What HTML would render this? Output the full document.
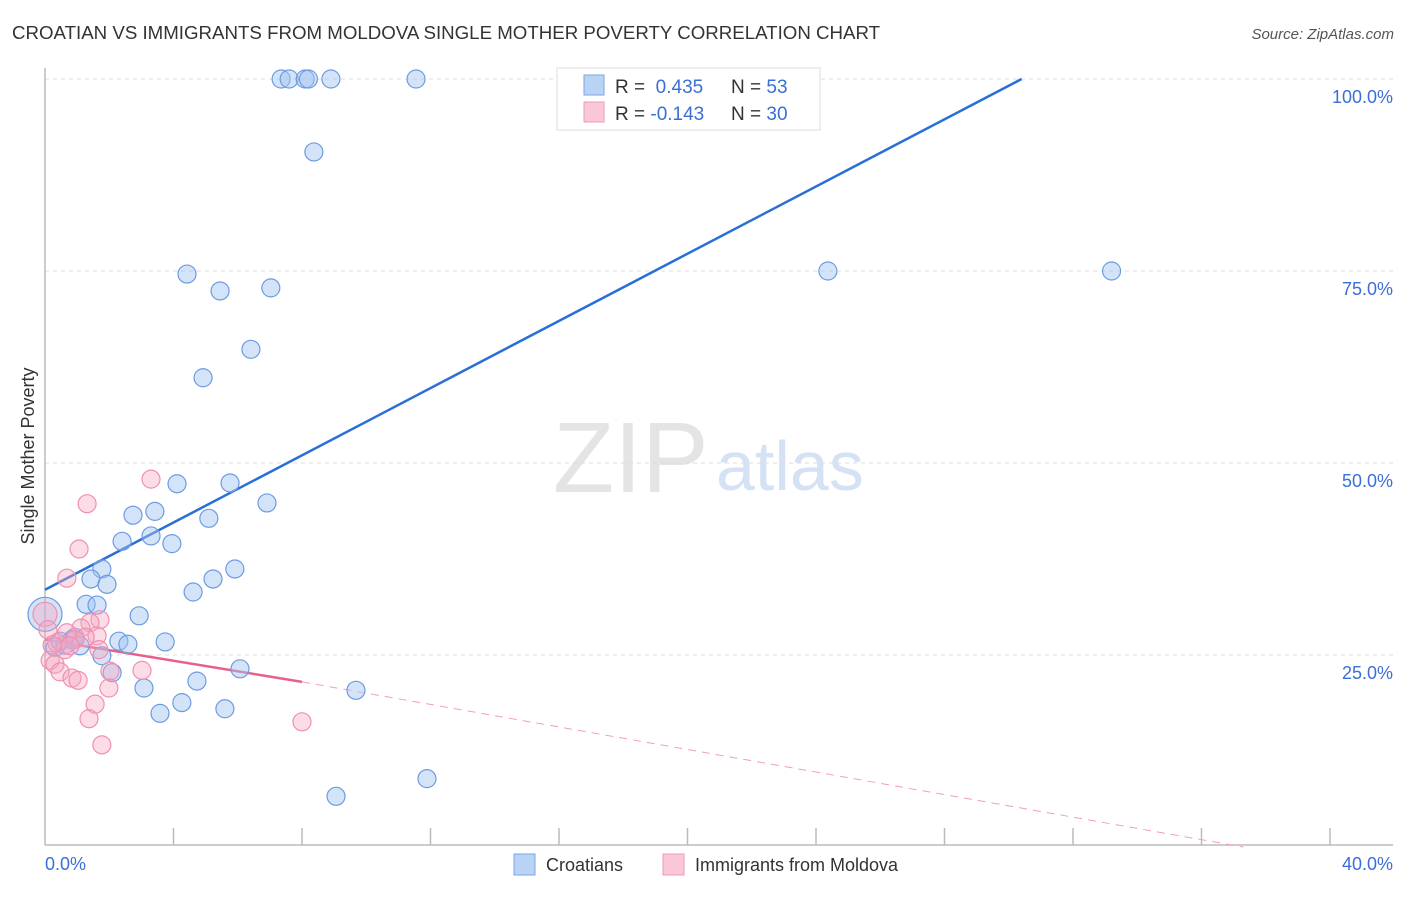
<!DOCTYPE html>
<html><head><meta charset="utf-8"><style>
body{margin:0;background:#fff;font-family:"Liberation Sans",sans-serif;}
svg text{font-family:"Liberation Sans",sans-serif;}
</style></head><body>
<svg id="chart" width="1406" height="892" xmlns="http://www.w3.org/2000/svg">
<text x="12" y="39" font-size="18.7" fill="#333">CROATIAN VS IMMIGRANTS FROM MOLDOVA SINGLE MOTHER POVERTY CORRELATION CHART</text>
<text x="1394" y="39" font-size="15" fill="#555" text-anchor="end" font-style="italic">Source: ZipAtlas.com</text>
<text x="553" y="492" font-size="100" font-family="Liberation Serif,serif" fill="#e4e4e4">ZIP</text>
<text x="716" y="490" font-size="70" fill="#d5e2f5">atlas</text>
<g id="grid"></g>
<line x1="45" y1="68" x2="45" y2="845" stroke="#bbb" stroke-width="1.5"/>
<line x1="45" y1="845" x2="1393" y2="845" stroke="#bbb" stroke-width="1.5"/>
<text transform="translate(34,456) rotate(-90)" font-size="18" fill="#333" text-anchor="middle">Single Mother Poverty</text>
<text x="45" y="870" font-size="18" fill="#3a6fd8">0.0%</text>
<text x="1393" y="870" font-size="18" fill="#3a6fd8" text-anchor="end">40.0%</text>
<g id="lines"></g>
<g id="points"></g>
<g>
<rect x="557" y="68" width="263" height="62" fill="#fff" stroke="#ddd"/>
<rect x="584" y="75" width="20" height="20" fill="#b9d3f5" stroke="#7aa4e6"/>
<rect x="584" y="102" width="20" height="20" fill="#f9c7d6" stroke="#ee9bb5"/>
<text x="615" y="93" font-size="19" fill="#333">R = <tspan fill="#3a6fd8">&#160;0.435</tspan></text>
<text x="731" y="93" font-size="19" fill="#333">N = <tspan fill="#3a6fd8">53</tspan></text>
<text x="615" y="120" font-size="19" fill="#333">R = <tspan fill="#3a6fd8">-0.143</tspan></text>
<text x="731" y="120" font-size="19" fill="#333">N = <tspan fill="#3a6fd8">30</tspan></text>
</g>
<g>
<rect x="514" y="854" width="21" height="21" fill="#b9d3f5" stroke="#7aa4e6"/>
<text x="546" y="871" font-size="18" fill="#333">Croatians</text>
<rect x="663" y="854" width="21" height="21" fill="#f9c7d6" stroke="#ee9bb5"/>
<text x="695" y="871" font-size="18" fill="#333">Immigrants from Moldova</text>
</g>
</svg>
<script>
const yTicks=[25,50,75,100];
const yTickLabels=["25.0%","50.0%","75.0%","100.0%"];
const xTicks=[4,8,12,16,20,24,28,32,36,40];
const blueX=[7.35,7.6,8.1,8.2,8.9,11.55,8.37,4.42,5.45,7.03,24.37,33.2,6.41,4.92,4.11,5.76,6.91,3.42,2.74,5.1,3.3,2.4,3.95,1.77,5.91,1.43,5.23,1.93,4.61,1.28,1.62,2.93,2.3,2.58,3.74,1.77,2.09,6.07,3.08,9.68,4.73,3.58,4.26,5.6,9.06,11.89,0.31,0.62,0.84,0.47,0.93,1.09,0];
const blueY=[100,100,100,100,100,100,90.5,74.6,72.4,72.8,75,75,64.8,61.1,47.3,47.4,44.8,43.7,43.2,42.8,40.5,39.8,39.5,36.2,36.2,34.9,34.9,34.2,33.2,31.6,31.5,30.1,26.8,26.4,26.7,24.9,22.7,23.2,20.7,20.4,21.6,17.4,18.8,18.0,6.6,8.9,26.0,26.3,27.0,26.8,27.3,26.2,30.3];
const pinkX=[0,3.3,1.31,1.06,0.68,1.71,1.4,1.12,1.62,1.25,0.68,0.37,0.93,1.68,0.16,0.31,0.47,0.84,1.03,2.02,3.02,1.99,1.56,1.37,1.77,8.0,0.62,0.78,0.22,0.09];
const pinkY=[30.3,47.9,44.7,38.8,35.0,29.6,29.2,28.5,27.5,27.3,27.9,26.6,27.0,25.7,24.3,23.8,22.8,22.0,21.7,22.9,23.0,20.7,18.6,16.7,13.3,16.3,25.7,26.2,26.3,28.3];
const blueTrend=[[0,33.5],[30.4,100]];
const pinkTrend=[[0,27.0],[8.0,21.5],[37.3,0]];
const NS="http://www.w3.org/2000/svg";
const sx=v=>45+v/40*1285, sy=v=>847-v/100*768;
function mk(tag,attrs,parent){const e=document.createElementNS(NS,tag);for(const k in attrs)e.setAttribute(k,attrs[k]);document.getElementById(parent).appendChild(e);return e;}
yTicks.forEach((t,i)=>{
 const g=mk('line',{x1:45,x2:1393,y1:sy(t),y2:sy(t),stroke:'#ddd','stroke-dasharray':'4,4'},'grid');
 
 
 const l=mk('text',{x:1393,y:sy(t)+24,'font-size':18,fill:'#3a6fd8','text-anchor':'end'},'grid');
 l.textContent=yTickLabels[i];
 
 
});
xTicks.forEach(t=>{
 const k=mk('line',{x1:sx(t),x2:sx(t),y1:828,y2:845,stroke:'#bbb','stroke-width':1.5},'grid');
 
 
});
const bl=mk('line',{x1:sx(blueTrend[0][0]),y1:sy(blueTrend[0][1]),x2:sx(blueTrend[1][0]),y2:sy(blueTrend[1][1]),stroke:'#2a6fd6','stroke-width':2.5},'lines');


const pl=mk('line',{x1:sx(pinkTrend[0][0]),y1:sy(pinkTrend[0][1]),x2:sx(pinkTrend[1][0]),y2:sy(pinkTrend[1][1]),stroke:'#e8608a','stroke-width':2.5},'lines');


const pd=mk('line',{x1:sx(pinkTrend[1][0]),y1:sy(pinkTrend[1][1]),x2:sx(pinkTrend[2][0]),y2:sy(pinkTrend[2][1]),stroke:'#f0a0ba','stroke-width':1,'stroke-dasharray':'8,6'},'lines');


blueX.forEach((x,i)=>{
 const c=mk('circle',{cx:sx(x),cy:sy(blueY[i]),r:(x===0?17:9),fill:'rgba(160,195,240,0.45)',stroke:'#6d9be2','stroke-width':1.2},'points');
 
 
});
pinkX.forEach((x,i)=>{
 const c=mk('circle',{cx:sx(x),cy:sy(pinkY[i]),r:(x===0?12:9),fill:'rgba(246,168,194,0.4)',stroke:'#f090b0','stroke-width':1.2},'points');
 
 
});
</script>
</body></html>
